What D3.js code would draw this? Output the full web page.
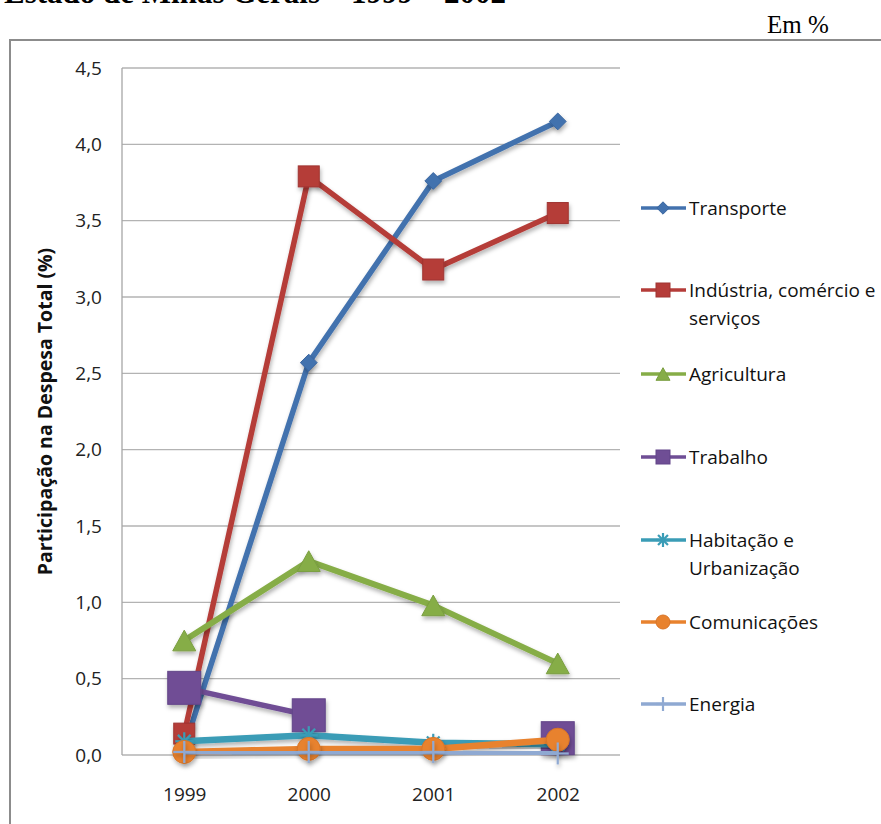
<!DOCTYPE html>
<html lang="pt">
<head>
<meta charset="UTF-8">
<title>Participação na Despesa Total</title>
<style>
    body { margin: 0; background: #fff; }
    svg { display: block; }
</style>
</head>
<body>
<div id="chart"></div>
<script src="https://d3js.org/d3.v7.min.js"></script>
<script>
// data
const years = ["1999", "2000", "2001", "2002"];
const seriesNames = ["Transporte", "Indústria, comércio e serviços", "Agricultura", "Trabalho", "Habitação e Urbanização", "Comunicações", "Energia"];
const transporte = [0.05, 2.57, 3.76, 4.15];
const industria = [0.14, 3.79, 3.18, 3.55];
const agricultura = [0.75, 1.27, 0.98, 0.60];
const trabalho = [0.44, 0.26, null, 0.11];
const habitacao = [0.09, 0.13, 0.08, 0.07];
const comunicacoes = [0.02, 0.04, 0.04, 0.10];
const energia = [0.02, 0.02, 0.02, 0.01];
const yTicks = [0, 0.5, 1, 1.5, 2, 2.5, 3, 3.5, 4, 4.5];

const W = 881, H = 824;
const plot = { left: 122, right: 620, top: 68, bottom: 755 };

const svg = d3.select("#chart").append("svg")
    .attr("width", W).attr("height", H);

const defs = svg.append("defs");
const shadow = defs.append("filter").attr("id", "shadow")
    .attr("x", "-50%").attr("y", "-50%").attr("width", "200%").attr("height", "200%");
shadow.append("feDropShadow").attr("dx", 1).attr("dy", 3).attr("stdDeviation", 2)
    .attr("flood-color", "#000").attr("flood-opacity", 0.3);

// title (cut at the top of the page) and unit
svg.append("text").attr("x", 4).attr("y", 3)
    .style("font", "bold 31px 'Liberation Serif', serif")
    .text("Estado de Minas Gerais – 1999 – 2002");
svg.append("text").attr("x", 767).attr("y", 33)
    .style("font", "25px 'Liberation Serif', serif")
    .text("Em %");

// chart frame
svg.append("rect").attr("x", 10).attr("y", 40).attr("width", 900).attr("height", 820)
    .attr("fill", "none").attr("stroke", "#8c8c8c").attr("stroke-width", 2);

const x = d3.scalePoint().domain(years).range([plot.left, plot.right]).padding(0.5);
const y = d3.scaleLinear().domain([0, 4.5]).range([plot.bottom, plot.top]);

// gridlines
svg.append("g").selectAll("line").data(yTicks).join("line")
    .attr("x1", plot.left).attr("x2", plot.right)
    .attr("y1", d => y(d)).attr("y2", d => y(d))
    .attr("stroke", "#b3b3b3").attr("stroke-width", 1.3);

svg.append("line").attr("x1", plot.left).attr("x2", plot.left)
    .attr("y1", plot.top).attr("y2", plot.bottom)
    .attr("stroke", "#a6a6a6").attr("stroke-width", 1.3);

const fmt = d => d.toFixed(1).replace(".", ",");
const yAxis = svg.append("g").attr("transform", `translate(${plot.left},0)`)
    .call(d3.axisLeft(y).tickValues(yTicks).tickFormat(fmt).tickSize(0).tickPadding(20));
yAxis.select(".domain").remove();
yAxis.selectAll("text").style("font", "19px 'Open Sans', sans-serif").attr("fill", "#222");

const xAxis = svg.append("g").attr("transform", `translate(0,${plot.bottom})`)
    .call(d3.axisBottom(x).tickSize(0).tickPadding(33));
xAxis.select(".domain").remove();
xAxis.selectAll("text").style("font", "19px 'Open Sans', sans-serif").attr("fill", "#222");

svg.append("text")
    .attr("transform", `translate(52,${(plot.top + plot.bottom) / 2}) rotate(-90)`)
    .attr("text-anchor", "middle")
    .style("font", "bold 19.5px 'Open Sans', sans-serif")
    .attr("fill", "#111")
    .text("Participação na Despesa Total (%)");

// marker shapes
function marker(g, type, size, color, stroke) {
    if (type === "diamond") {
        g.append("path").attr("d", d3.symbol(d3.symbolDiamond2, size * size * 0.5)())
            .attr("fill", color).attr("stroke", stroke);
    } else if (type === "square") {
        g.append("rect").attr("x", -size / 2).attr("y", -size / 2)
            .attr("width", size).attr("height", size).attr("fill", color).attr("stroke", stroke);
    } else if (type === "triangle") {
        const h = size * 0.9;
        g.append("path").attr("d", `M0,${-h / 2}L${size / 2},${h / 2}L${-size / 2},${h / 2}Z`)
            .attr("fill", color).attr("stroke", stroke);
    } else if (type === "circle") {
        g.append("circle").attr("r", size / 2).attr("fill", color).attr("stroke", stroke);
    } else if (type === "star") {
        const r = size / 2;
        [0, 45, 90, 135].forEach(a => {
            const rad = a * Math.PI / 180;
            g.append("line").attr("x1", -r * Math.cos(rad)).attr("y1", -r * Math.sin(rad))
                .attr("x2", r * Math.cos(rad)).attr("y2", r * Math.sin(rad))
                .attr("stroke", color).attr("stroke-width", 2.2);
        });
    } else if (type === "plus") {
        const r = size / 2;
        g.append("line").attr("x1", -r).attr("x2", r).attr("y1", 0).attr("y2", 0)
            .attr("stroke", color).attr("stroke-width", 2.2);
        g.append("line").attr("x1", 0).attr("x2", 0).attr("y1", -r).attr("y2", r)
            .attr("stroke", color).attr("stroke-width", 2.2);
    }
}

const series = [
    { name: seriesNames[0], values: transporte, color: "#4372AE", stroke: "#3a66a0", type: "diamond", size: 19, lw: 5.5, lsize: 14 },
    { name: seriesNames[1], values: industria, color: "#B53C39", stroke: "#a03532", type: "square", size: 21, lw: 5.5, lsize: 14 },
    { name: seriesNames[2], values: agricultura, color: "#86AD47", stroke: "#7a9e40", type: "triangle", size: 23, lw: 6, lsize: 14 },
    { name: seriesNames[3], values: trabalho, color: "#6F4E95", stroke: "#634589", type: "square", size: 33, lw: 5.5, lsize: 14 },
    { name: seriesNames[4], values: habitacao, color: "#3A9CB6", stroke: "#3a9cb6", type: "star", size: 18, lw: 6.5, lsize: 14 },
    { name: seriesNames[5], values: comunicacoes, color: "#E8822E", stroke: "#d97527", type: "circle", size: 23, lw: 6.5, lsize: 14 },
    { name: seriesNames[6], values: energia, color: "#8FA9D2", stroke: "#8FA9D2", type: "plus", size: 22, lw: 5, lsize: 14 }
];

const line = d3.line()
    .defined(d => d.v !== null)
    .x(d => x(d.year)).y(d => y(d.v));

series.forEach(s => {
    const pts = years.map((yr, i) => ({ year: yr, v: s.values[i] }));
    const g = svg.append("g");
    g.append("path").datum(pts).attr("d", line)
        .attr("fill", "none").attr("stroke", s.color).attr("stroke-width", s.lw)
        .attr("stroke-linejoin", "round").attr("filter", "url(#shadow)");
    g.selectAll("g.m").data(pts.filter(d => d.v !== null)).join("g")
        .attr("class", "m")
        .attr("transform", d => `translate(${x(d.year)},${y(d.v)})`)
        .attr("filter", "url(#shadow)")
        .each(function () { marker(d3.select(this), s.type, s.size, s.color, s.stroke); });
});

// legend
const legendY = [208, 290, 374, 457, 540, 622, 704];
const legend = svg.append("g");
series.forEach((s, i) => {
    const g = legend.append("g").attr("transform", `translate(0,${legendY[i]})`);
    g.append("line").attr("x1", 641).attr("x2", 686).attr("y1", 0).attr("y2", 0)
        .attr("stroke", s.color).attr("stroke-width", 3.5);
    const m = g.append("g").attr("transform", "translate(663,0)");
    marker(m, s.type, s.lsize, s.color, s.stroke);
    const words = s.name === "Indústria, comércio e serviços" ? ["Indústria, comércio e", "serviços"]
        : s.name === "Habitação e Urbanização" ? ["Habitação e", "Urbanização"] : [s.name];
    const t = g.append("text").attr("x", 689).attr("y", 7)
        .style("font", "19px 'Open Sans', sans-serif").attr("fill", "#111");
    words.forEach((w, j) => t.append("tspan").attr("x", 689).attr("dy", j ? 28 : 0).text(w));
});
</script>
</body>
</html>
